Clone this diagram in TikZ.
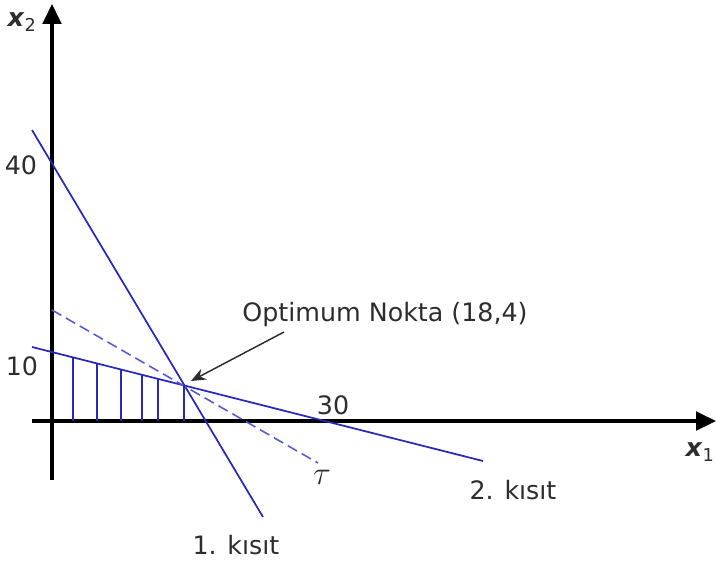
\documentclass[tikz,border=0pt]{standalone}
\usepackage{fontspec}
\setmainfont{DejaVu Sans}
\usetikzlibrary{arrows.meta}
\definecolor{kblue}{RGB}{40,40,190}
\definecolor{kdash}{RGB}{90,90,215}
\definecolor{ktext}{RGB}{45,45,45}
\tikzset{
  axis/.style={line width=2.6pt,-{Triangle[length=15pt,width=14pt]}},
  kisit/.style={kblue,line width=1.3pt},
  lbl/.style={text=ktext,font=\fontsize{19}{22}\selectfont,inner sep=0pt}
}
\begin{document}
\begin{tikzpicture}[x=0.75pt,y=-0.75pt]
\useasboundingbox (0,0) rectangle (716,560);
% axes
\coordinate (xs) at (32,421);
\coordinate (xe) at (716,421);
\coordinate (ys) at (52,480);
\coordinate (ye) at (52,4);
\draw[axis] (xs) -- (xe);
\draw[axis] (ys) -- (ye);
\node[lbl] (xone) at (700,452) {\textit{\textbf{x}}\textsubscript{1}};
\node[lbl] (xtwo) at (22,22) {\textit{\textbf{x}}\textsubscript{2}};
\node[lbl] (fourty) at (21,165) {40};
\node[lbl] (ten) at (22,366) {10};
\node[lbl] (thirty) at (333,405) {30};

% constraints
\coordinate (k1a) at (32,130);
\coordinate (k1b) at (263,517);
\coordinate (k2a) at (32,347);
\coordinate (k2b) at (483,461);
\draw[kisit] (k1a) -- (k1b);
\draw[kisit] (k2a) -- (k2b);
\node[lbl] (kone) at (236,545) {1. kısıt};
\node[lbl] (ktwo) at (513,490) {2. kısıt};

% objective
\coordinate (ta) at (52,310);
\coordinate (tb) at (318,463);
\draw[kdash,line width=1.2pt,dash pattern=on 8pt off 4pt] (ta) -- (tb);
\node[lbl,font=\fontsize{26}{28}\selectfont] (tau) at (322,477) {$\tau$};

% feasible region
\foreach \x in {73,97,121,142,158,184}
  \draw[kblue,line width=1.1pt] (\x,{347+0.2528*(\x-32)}) -- (\x,421);

% optimum
\coordinate (opt) at (184.5,386);
\node[lbl] (optlbl) at (385,315) {Optimum Nokta (18,4)};
\draw[ktext,line width=1.1pt,-{Stealth[length=11pt,width=9pt]}] (284,332) -- (191,381);
\end{tikzpicture}
\end{document}
